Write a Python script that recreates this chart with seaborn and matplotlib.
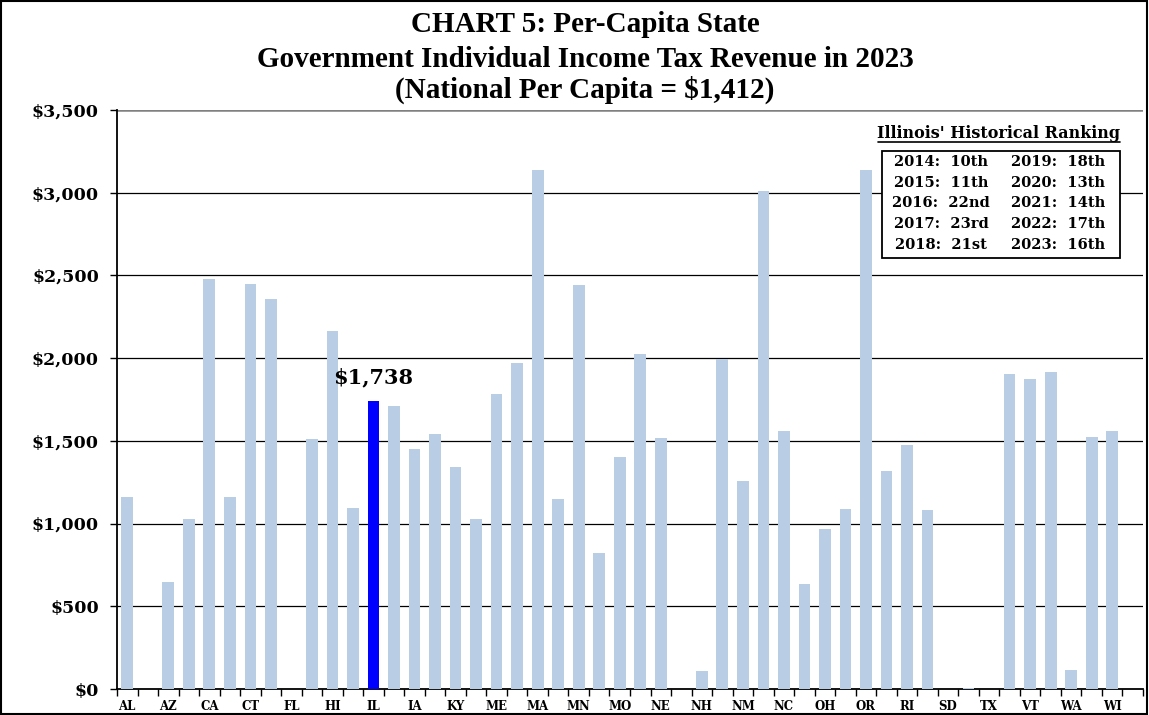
import os
import matplotlib
matplotlib.use("Agg")
import matplotlib.pyplot as plt
import seaborn as sns
import numpy as np
import pandas as pd
from matplotlib.patches import Rectangle
from matplotlib.ticker import FuncFormatter, FixedLocator
from matplotlib.font_manager import FontProperties

states = ["AL","AK","AZ","AR","CA","CO","CT","DE","FL","GA","HI","ID","IL","IN","IA","KS","KY","LA",
          "ME","MD","MA","MI","MN","MS","MO","MT","NE","NV","NH","NJ","NM","NY","NC","ND","OH","OK",
          "OR","PA","RI","SC","SD","TN","TX","UT","VT","VA","WA","WV","WI","WY"]
values = [1160, 0, 645, 1030, 2480, 1160, 2450, 2355, 0, 1510, 2165, 1095, 1738, 1710, 1450, 1540, 1340, 1025,
          1785, 1970, 3135, 1150, 2440, 825, 1405, 2025, 1520, 0, 110, 1995, 1255, 3010, 1560, 635, 965, 1090,
          3140, 1315, 1475, 1080, 0, 5, 0, 1905, 1875, 1915, 115, 1525, 1560, 0]
highlight = "IL"
rank_left = ["2014:  10th", "2015:  11th", "2016:  22nd", "2017:  23rd", "2018:  21st"]
rank_right = ["2019:  18th", "2020:  13th", "2021:  14th", "2022:  17th", "2023:  16th"]

sns.set_theme(style="white")
plt.rcParams['font.family'] = ['DejaVu Serif']
plt.rcParams['font.weight'] = 'bold'
for k in ["text.color", "axes.labelcolor", "xtick.color", "ytick.color"]:
    plt.rcParams[k] = "black"

bold_path = os.path.join(matplotlib.get_data_path(), "fonts", "ttf", "DejaVuSerif-Bold.ttf")
def fp(size):
    if os.path.exists(bold_path):
        return FontProperties(fname=bold_path, size=size)
    return FontProperties(family="DejaVu Serif", weight="bold", size=size)

df = pd.DataFrame({"state": states, "value": values})
colors = {s: ("#0000FF" if s == highlight else "#B9CDE5") for s in states}

fig = plt.figure(figsize=(11.49, 7.15), dpi=100)
ax = fig.add_axes([117/1149, 1-689/715, (1143-117)/1149, (689-110)/715])

sns.barplot(data=df, x="state", y="value", hue="state", palette=colors, legend=False,
            width=0.57, dodge=False, ax=ax, saturation=1, zorder=3, edgecolor="none", linewidth=0)

ax.set_ylim(0, 3500)
ax.set_xlim(-0.5, len(states) - 0.5)
ax.set_yticks(np.arange(0, 3501, 500))
ax.yaxis.set_major_formatter(FuncFormatter(lambda v, p: f"${v:,.0f}"))
for y in range(500, 3001, 500):
    ax.axhline(y, color="black", lw=0.9, zorder=1)
ax.axhline(3500, color="#808080", lw=1.8, zorder=1)

ax.set_xticks(range(0, len(states), 2))
ax.set_xticklabels(states[::2])
ax.xaxis.set_minor_locator(FixedLocator(np.arange(-0.5, len(states), 1)))
ax.tick_params(axis="x", which="major", length=0, pad=8)
ax.tick_params(axis="x", which="minor", length=5, width=1, color="black", direction="out", bottom=True)
ax.tick_params(axis="y", which="major", length=5, width=1, color="black", direction="out", left=True, pad=8)
for lab in ax.get_xticklabels():
    lab.set_fontproperties(fp(8.5))
for lab in ax.get_yticklabels():
    lab.set_fontproperties(fp(12.5))
ax.set_xlabel("")
ax.set_ylabel("")

for s in ["top", "right"]:
    ax.spines[s].set_visible(False)
for s in ["left", "bottom"]:
    ax.spines[s].set_color("black")
    ax.spines[s].set_linewidth(1.3)

i = states.index(highlight)
ax.annotate(f"${values[i]:,}", (i, values[i]), xytext=(0, 10), textcoords="offset points",
            ha="center", va="bottom", fontproperties=fp(15), color="black")

title_lines = ["CHART 5: Per-Capita State",
               "Government Individual Income Tax Revenue in 2023",
               "(National Per Capita = $1,412)"]
for t, yb in zip(title_lines, [32, 67, 98]):
    fig.text(585/1149, 1 - yb/715, t, ha="center", va="baseline", fontsize=21, fontweight="bold",
             family=["Liberation Serif", "DejaVu Serif"])

fig.text(999/1149, 1-133/715, "Illinois' Historical Ranking", ha="center", va="center",
         fontproperties=fp(11.5))
fig.add_artist(plt.Line2D([878/1149, 1120/1149], [1-142/715, 1-142/715], color="black", lw=1.2))
fig.add_artist(Rectangle((882/1149, 1-258/715), (1120-882)/1149, (258-151)/715, transform=fig.transFigure,
                         facecolor="white", edgecolor="black", lw=1.3, zorder=5))
for k in range(5):
    yy = 1 - (162 + k * 20.7) / 715
    fig.text(941/1149, yy, rank_left[k], ha="center", va="center", fontproperties=fp(10.5), zorder=6)
    fig.text(1058/1149, yy, rank_right[k], ha="center", va="center", fontproperties=fp(10.5), zorder=6)

fig.add_artist(Rectangle((0.001, 0.001), 0.997, 0.997, transform=fig.transFigure, fill=False,
                         edgecolor="black", lw=1.5))

fig.savefig("out.png", dpi=100)
